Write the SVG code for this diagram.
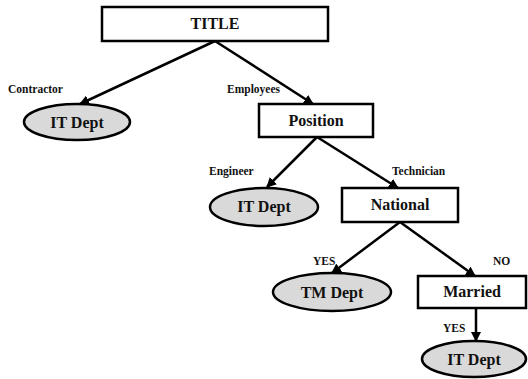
<svg xmlns="http://www.w3.org/2000/svg" width="528" height="379" viewBox="0 0 528 379">
<style>
.box{fill:#fff;stroke:#000;stroke-width:2.5}
.ell{fill:#d9d9d9;stroke:#000;stroke-width:2.5}
.nt{font-family:'Liberation Serif','Times New Roman',Times,serif;font-weight:bold;font-size:16px;text-anchor:middle;fill:#111}
.lb{font-family:'Liberation Serif','Times New Roman',Times,serif;font-weight:bold;font-size:11.5px;fill:#111}
.edge{stroke:#000;stroke-width:2.5;fill:none;marker-end:url(#ah)}
</style>
<defs>
<marker id="ah" viewBox="0 0 10 10" refX="9" refY="5" markerWidth="4" markerHeight="4" orient="auto" markerUnits="strokeWidth">
<path d="M0,0 L10,5 L0,10 z" fill="#000"/>
</marker>
</defs>
<rect width="528" height="379" fill="#fff"/>
<g id="connectors">
<line class="edge" x1="215" y1="41" x2="80" y2="104"/>
<line class="edge" x1="215" y1="41" x2="313" y2="104"/>
<line class="edge" x1="317" y1="137" x2="267" y2="187"/>
<line class="edge" x1="317" y1="137" x2="398" y2="188"/>
<line class="edge" x1="400" y1="222" x2="332" y2="273"/>
<line class="edge" x1="400" y1="222" x2="475" y2="276"/>
<line class="edge" x1="476" y1="308" x2="476" y2="341"/>
<text class="lb" x="8" y="93">Contractor</text>
<text class="lb" x="227" y="93">Employees</text>
<text class="lb" x="209" y="175">Engineer</text>
<text class="lb" x="392" y="175">Technician</text>
<text class="lb" x="313" y="265">YES</text>
<text class="lb" x="493" y="265">NO</text>
<text class="lb" x="443" y="332">YES</text>
</g>
<g id="title"><rect class="box" x="102" y="7" width="226" height="34"/><text class="nt" x="215" y="29">TITLE</text></g>
<g id="itdept1"><ellipse class="ell" cx="77" cy="122" rx="53" ry="18"/><text class="nt" x="77" y="128">IT Dept</text></g>
<g id="position"><rect class="box" x="259" y="104" width="114" height="33"/><text class="nt" x="316" y="126">Position</text></g>
<g id="itdept2"><ellipse class="ell" cx="264" cy="207" rx="54" ry="19"/><text class="nt" x="264" y="212">IT Dept</text></g>
<g id="national"><rect class="box" x="342" y="188" width="116" height="34"/><text class="nt" x="400" y="210">National</text></g>
<g id="tmdept"><ellipse class="ell" cx="332" cy="292" rx="59" ry="19"/><text class="nt" x="332" y="298">TM Dept</text></g>
<g id="married"><rect class="box" x="418" y="276" width="108" height="32"/><text class="nt" x="472" y="297">Married</text></g>
<g id="itdept3"><ellipse class="ell" cx="474" cy="359" rx="52" ry="18"/><text class="nt" x="474" y="365">IT Dept</text></g>
</svg>
